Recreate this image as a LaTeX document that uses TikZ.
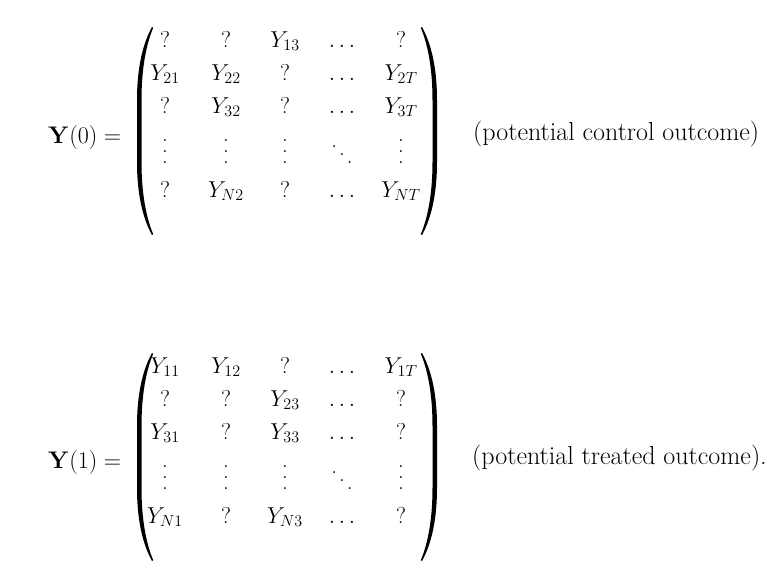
\documentclass[tikz,border=0pt]{standalone}
\usepackage{fix-cm}
\newcommand{\vdts}{\vbox{\baselineskip=11pt\lineskiplimit=0pt\hbox{.}\hbox{.}\hbox{.}}}
\newcommand{\ddts}{\hbox{\raise16pt\hbox{.}\kern2pt\raise8pt\hbox{.}\kern2pt\hbox{.}}}
\tikzset{
    cell/.style={anchor=base,inner sep=0pt,font=\fontsize{23}{28}\selectfont},
    label/.style={anchor=base west,inner sep=0pt,font=\fontsize{24}{29}\selectfont},
    note/.style={anchor=base west,inner sep=0pt,font=\fontsize{26}{31}\selectfont},
    paren/.pic={
        \fill (15,-104) .. controls (5,-86) and (0,-61) .. (0,-31) -- (0,31) .. controls (0,61) and (5,86) .. (15,104)
            -- (16.2,103.2) .. controls (8.5,85) and (4.5,60) .. (4.5,31) -- (4.5,-31) .. controls (4.5,-60) and (8.5,-85) .. (16.2,-103.2) -- cycle;
    }
}
\begin{document}
\begin{tikzpicture}[x=1pt,y=-1pt]
    \useasboundingbox (0,0) rectangle (772,566);
    % Y(0)
    \node[label] (lhs0) at (48,143) {$\mathbf{Y}(0) =$};
    \pic at (137,131) {paren};
    \pic[xscale=-1] at (437,131) {paren};
    \node[cell] (a11) at (165,47) {$?$}; \node[cell] (a12) at (226,47) {$?$}; \node[cell] (a13) at (285,47) {$Y_{13}$}; \node[cell] (a14) at (342,47) {$\ldots$}; \node[cell] (a15) at (401,47) {$?$};
    \node[cell] (a21) at (165,80) {$Y_{21}$}; \node[cell] (a22) at (226,80) {$Y_{22}$}; \node[cell] (a23) at (285,80) {$?$}; \node[cell] (a24) at (342,80) {$\ldots$}; \node[cell] (a25) at (401,80) {$Y_{2T}$};
    \node[cell] (a31) at (165,113) {$?$}; \node[cell] (a32) at (226,113) {$Y_{32}$}; \node[cell] (a33) at (285,113) {$?$}; \node[cell] (a34) at (342,113) {$\ldots$}; \node[cell] (a35) at (401,113) {$Y_{3T}$};
    \node[cell] (a41) at (165,163) {\vdts}; \node[cell] (a42) at (226,163) {\vdts}; \node[cell] (a43) at (285,163) {\vdts}; \node[cell] (a44) at (342,163) {\ddts}; \node[cell] (a45) at (401,163) {\vdts};
    \node[cell] (a51) at (165,197) {$?$}; \node[cell] (a52) at (226,197) {$Y_{N2}$}; \node[cell] (a53) at (285,197) {$?$}; \node[cell] (a54) at (342,197) {$\ldots$}; \node[cell] (a55) at (401,197) {$Y_{NT}$};
    \node[note] (txt0) at (473,140) {(potential control outcome)};
    % Y(1)
    \node[label] (lhs1) at (48,468) {$\mathbf{Y}(1) =$};
    \pic at (137,457) {paren};
    \pic[xscale=-1] at (437,457) {paren};
    \node[cell] (b11) at (165,373) {$Y_{11}$}; \node[cell] (b12) at (226,373) {$Y_{12}$}; \node[cell] (b13) at (285,373) {$?$}; \node[cell] (b14) at (342,373) {$\ldots$}; \node[cell] (b15) at (401,373) {$Y_{1T}$};
    \node[cell] (b21) at (165,406) {$?$}; \node[cell] (b22) at (226,406) {$?$}; \node[cell] (b23) at (285,406) {$Y_{23}$}; \node[cell] (b24) at (342,406) {$\ldots$}; \node[cell] (b25) at (401,406) {$?$};
    \node[cell] (b31) at (165,439) {$Y_{31}$}; \node[cell] (b32) at (226,439) {$?$}; \node[cell] (b33) at (285,439) {$Y_{33}$}; \node[cell] (b34) at (342,439) {$\ldots$}; \node[cell] (b35) at (401,439) {$?$};
    \node[cell] (b41) at (165,489) {\vdts}; \node[cell] (b42) at (226,489) {\vdts}; \node[cell] (b43) at (285,489) {\vdts}; \node[cell] (b44) at (342,489) {\ddts}; \node[cell] (b45) at (401,489) {\vdts};
    \node[cell] (b51) at (165,523) {$Y_{N1}$}; \node[cell] (b52) at (226,523) {$?$}; \node[cell] (b53) at (285,523) {$Y_{N3}$}; \node[cell] (b54) at (342,523) {$\ldots$}; \node[cell] (b55) at (401,523) {$?$};
    \node[note] (txt1) at (472,464) {(potential treated outcome).};
\end{tikzpicture}
\end{document}
